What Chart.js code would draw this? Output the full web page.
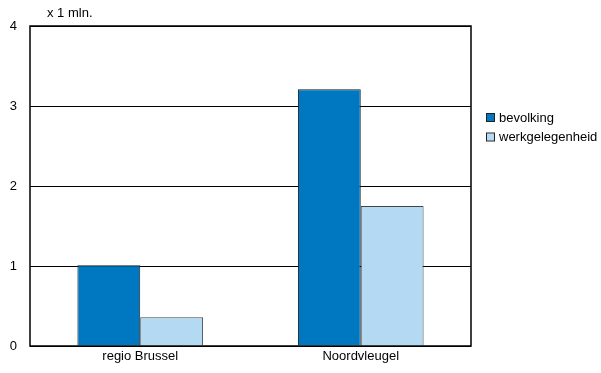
<!DOCTYPE html>
<html lang="nl">
<head>
<meta charset="UTF-8">
<script src="https://cdn.jsdelivr.net/npm/chart.js"></script>
<style>
  body { margin: 0; background: #fff; }
  #wrap { width: 601px; height: 373px; }
</style>
</head>
<body>
<div id="wrap"><canvas id="grafiek"></canvas></div>
<script>
  // gegevens (x 1 mln.)
  const categorieen = ['regio Brussel', 'Noordvleugel'];
  const bevolking = [1.01, 3.21];
  const werkgelegenheid = [0.36, 1.75];
  const yTicks = [0, 1, 2, 3, 4];

  const FONT = 'Liberation Sans, Arial, sans-serif';

  // kader rond het plotgebied, eenheid en legende
  const extras = {
    id: 'extras',
    afterDatasetsDraw(chart) {
      const a = chart.chartArea;
      const ctx = chart.ctx;
      ctx.save();
      ctx.strokeStyle = '#000';
      ctx.lineWidth = 1.5;
      ctx.strokeRect(a.left, a.top, a.right - a.left, a.bottom - a.top);
      ctx.restore();
    },
    afterDraw(chart) {
      const ctx = chart.ctx;
      ctx.save();
      ctx.font = '13px ' + FONT;
      ctx.fillStyle = '#000';
      ctx.textBaseline = 'middle';
      ctx.fillText('x 1 mln.', 47, 13);

      let y = 118;
      chart.data.datasets.forEach(ds => {
        ctx.fillStyle = ds.backgroundColor;
        ctx.fillRect(487, y - 4, 7, 7);
        ctx.strokeStyle = '#222';
        ctx.lineWidth = 1;
        ctx.strokeRect(486.5, y - 4.5, 8, 8);
        ctx.fillStyle = '#000';
        ctx.fillText(ds.label, 499, y);
        y += 19.5;
      });
      ctx.restore();
    }
  };

  new Chart(document.getElementById('grafiek'), {
    type: 'bar',
    data: {
      labels: categorieen,
      datasets: [{
        label: 'bevolking',
        data: bevolking,
        backgroundColor: '#0077C1',
        borderColor: '#1a1a1a',
        borderWidth: 1,
        categoryPercentage: 0.57,
        barPercentage: 1
      }, {
        label: 'werkgelegenheid',
        data: werkgelegenheid,
        backgroundColor: '#B3D9F3',
        borderColor: '#444',
        borderWidth: 1,
        categoryPercentage: 0.57,
        barPercentage: 1
      }]
    },
    options: {
      responsive: true,
      maintainAspectRatio: false,
      animation: false,
      layout: { padding: { left: 0, top: 26, right: 130, bottom: 0 } },
      plugins: {
        legend: { display: false },
        tooltip: { enabled: false }
      },
      scales: {
        x: {
          grid: { display: false, drawTicks: false },
          border: { display: false },
          ticks: { color: '#000', font: { family: FONT, size: 13 }, padding: 3 },
          afterFit(s) { s.height = 27; }
        },
        y: {
          min: 0,
          max: 4,
          afterBuildTicks(s) { s.ticks = yTicks.map(v => ({ value: v })); },
          grid: { color: '#000', lineWidth: 1, drawTicks: false },
          border: { display: false },
          ticks: { color: '#000', font: { family: FONT, size: 13 }, padding: 13 },
          afterFit(s) { s.width = 30; }
        }
      }
    },
    plugins: [extras]
  });
</script>
</body>
</html>
